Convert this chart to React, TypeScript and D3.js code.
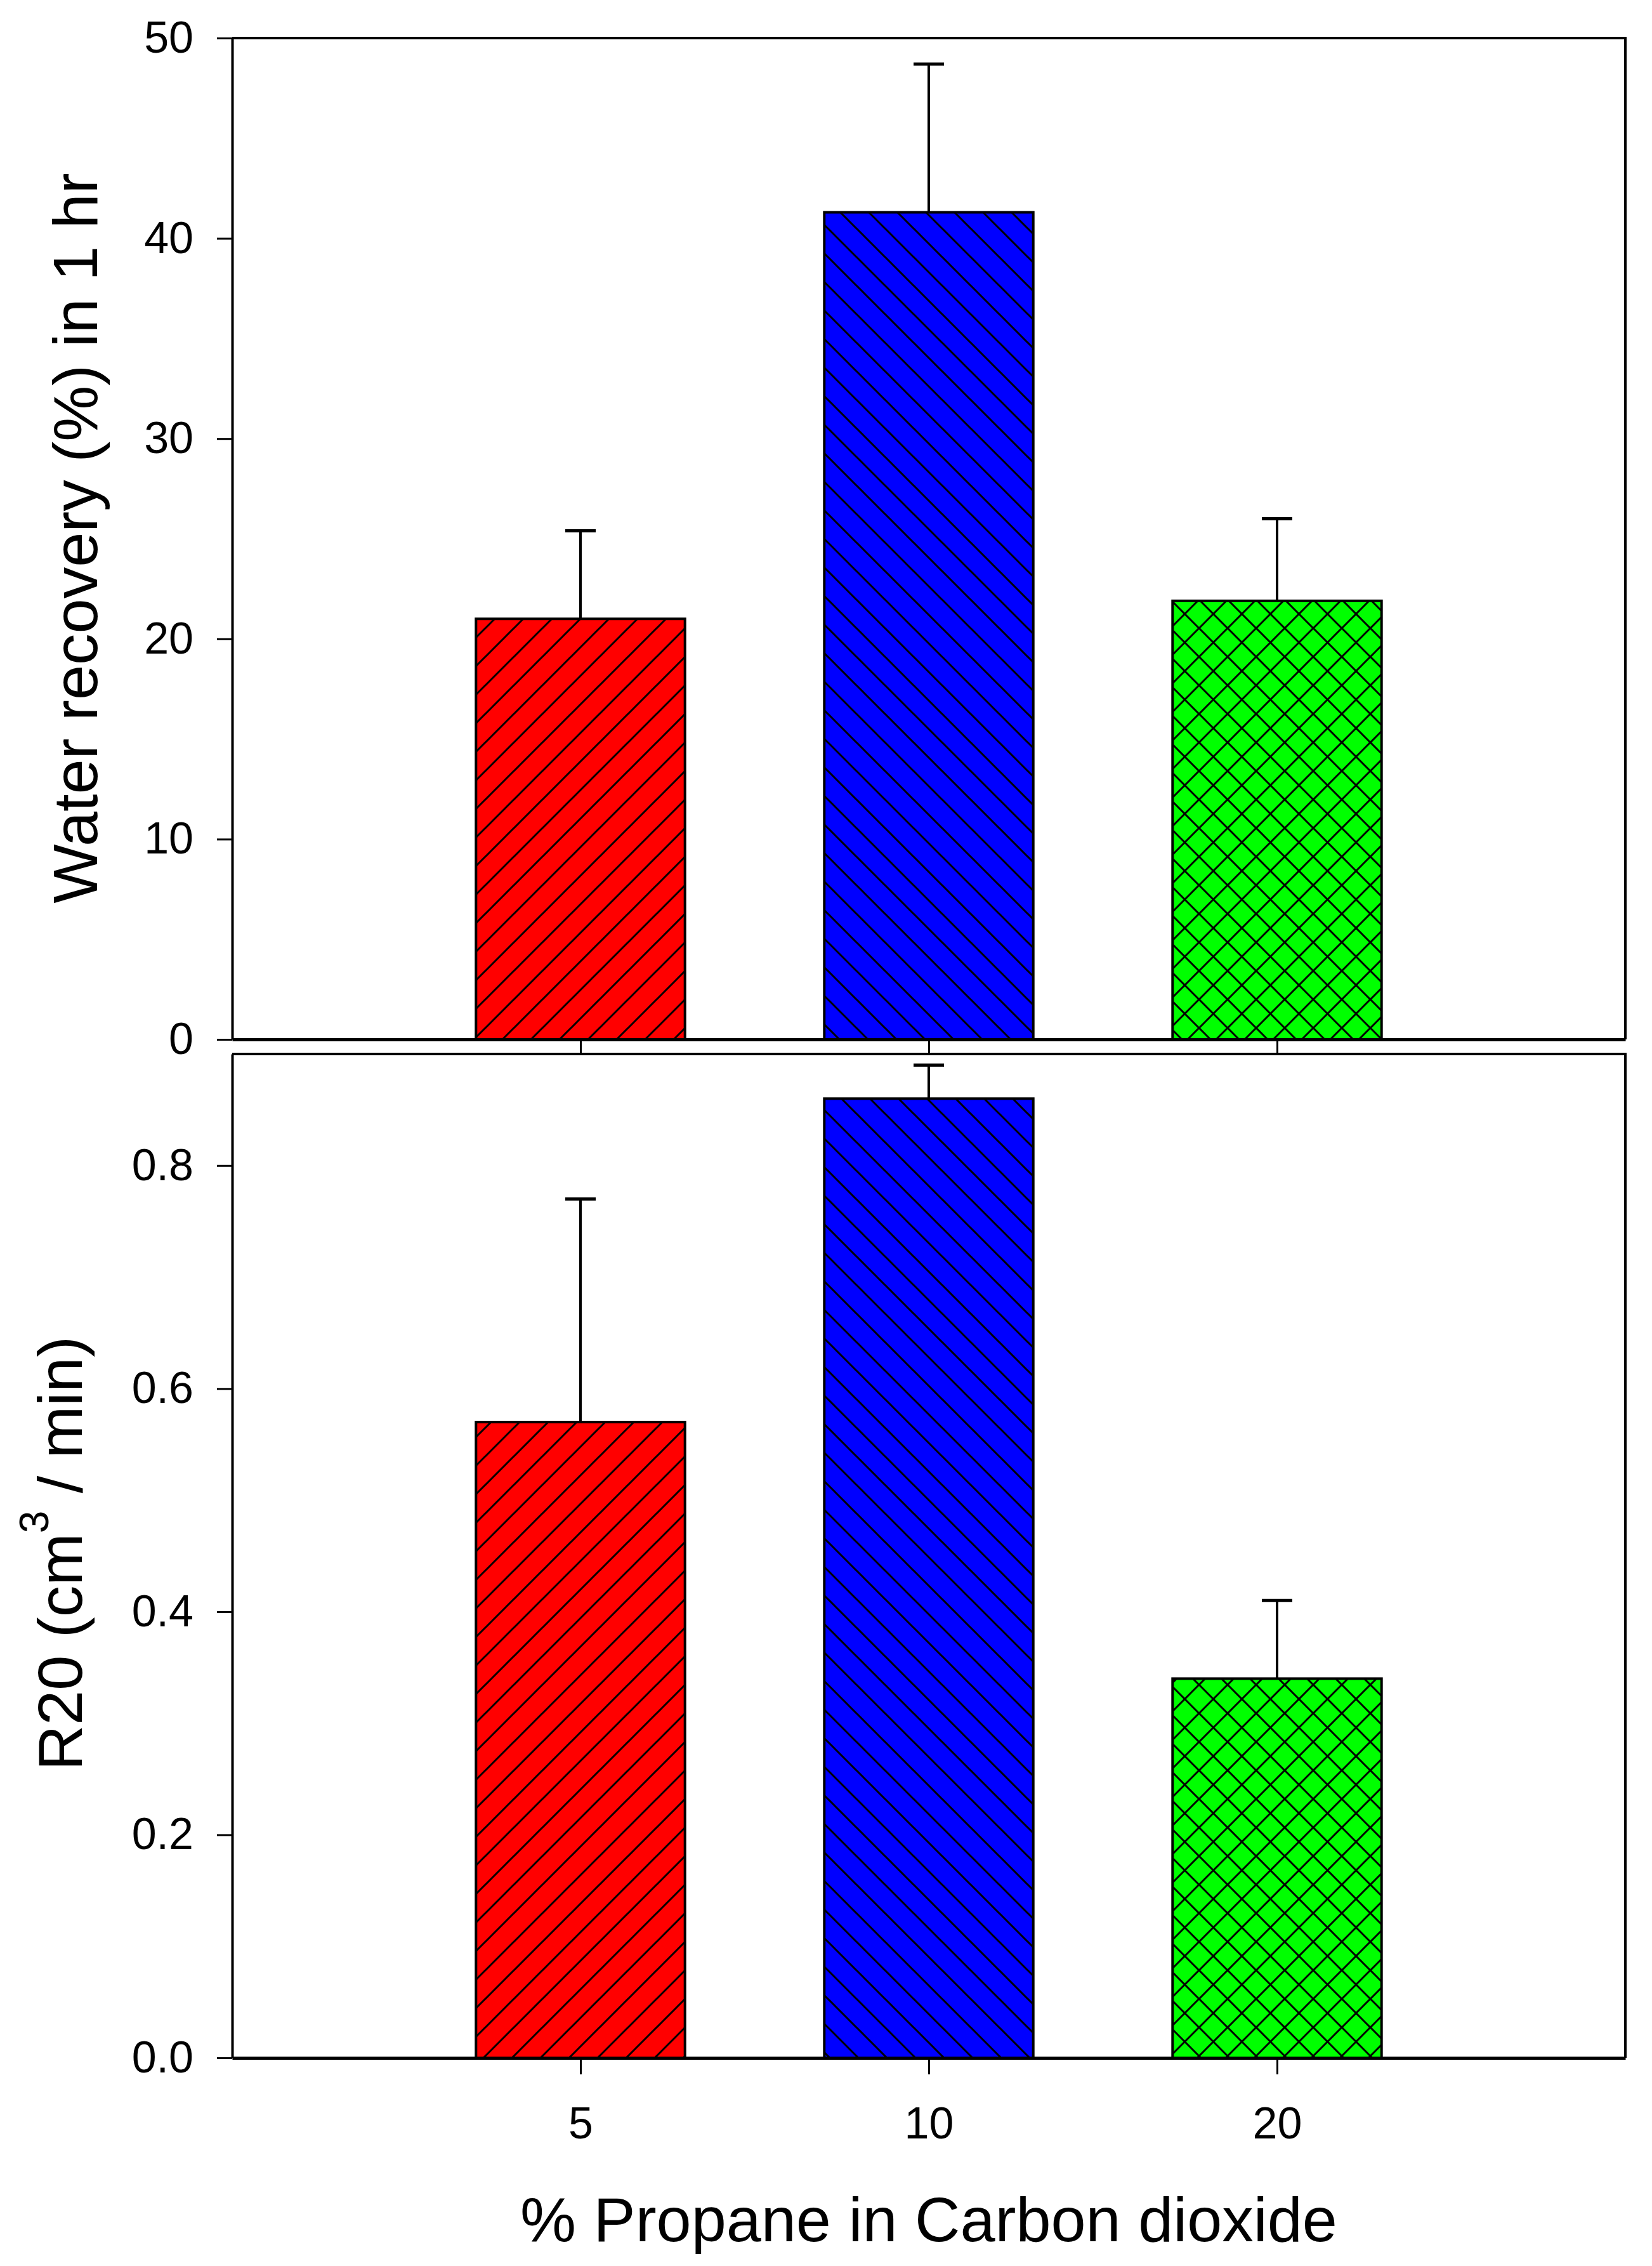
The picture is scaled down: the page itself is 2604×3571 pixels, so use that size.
import React, { useEffect, useRef } from "react";
import * as d3 from "d3";

// values
const categories = ["5", "10", "20"];
const recoveryMeans = [21.0, 41.3, 21.9];
const recoveryErrors = [4.4, 7.4, 4.1];
const r20Means = [0.57, 0.86, 0.34];
const r20Errors = [0.2, 0.03, 0.07];
const recoveryTicks = [0, 10, 20, 30, 40, 50];
const r20Ticks = [0, 0.2, 0.4, 0.6, 0.8];
const barColors = ["#ff0000", "#0000ff", "#00ff00"];
const barPatterns = ["fwd", "back", "cross"];

const W = 2604;
const H = 3571;
const FONT = "'Liberation Sans', Arial, sans-serif";

export default function App() {
  const svgRef: any = useRef();

  useEffect(() => {
    draw();
  }, []);

  const draw = () => {
    const svg = d3.select(svgRef.current);
    svg.selectAll("*").remove();

    const left = 366;
    const right = 2562;

    const x = d3
      .scalePoint()
      .domain(categories)
      .range([left, right])
      .padding(1);
    const barW = x.step() * 0.6;

    // hatch patterns
    const defs = svg.append("defs");
    barPatterns.forEach((p, i) => {
      const pat = defs
        .append("pattern")
        .attr("id", `pat-${p}`)
        .attr("patternUnits", "userSpaceOnUse")
        .attr("width", 45)
        .attr("height", 45);
      pat.append("rect").attr("width", 45).attr("height", 45).attr("fill", barColors[i]);
      const segs: number[][] = [];
      if (p === "fwd" || p === "cross") {
        segs.push([-5, 5, 5, -5], [0, 45, 45, 0], [40, 50, 50, 40]);
      }
      if (p === "back" || p === "cross") {
        segs.push([-5, 40, 5, 50], [0, 0, 45, 45], [40, -5, 50, 5]);
      }
      segs.forEach((s) => {
        pat
          .append("line")
          .attr("x1", s[0])
          .attr("y1", s[1])
          .attr("x2", s[2])
          .attr("y2", s[3])
          .attr("stroke", "black")
          .attr("stroke-width", 3);
      });
    });

    const panel = (
      top: number,
      bottom: number,
      domain: number[],
      ticks: number[],
      fmt: (d: any) => string,
      means: number[],
      errs: number[],
      showLabels: boolean
    ) => {
      const y = d3.scaleLinear().domain(domain).range([bottom, top]);
      const g = svg.append("g");

      // bars
      means.forEach((m, i) => {
        const cx = x(categories[i]) as number;
        g.append("rect")
          .attr("x", cx - barW / 2)
          .attr("y", y(m))
          .attr("width", barW)
          .attr("height", y(0) - y(m))
          .attr("fill", `url(#pat-${barPatterns[i]})`)
          .attr("stroke", "black")
          .attr("stroke-width", 4);
        // upper error bar
        g.append("line")
          .attr("x1", cx)
          .attr("x2", cx)
          .attr("y1", y(m))
          .attr("y2", y(m + errs[i]))
          .attr("stroke", "black")
          .attr("stroke-width", 4);
        g.append("line")
          .attr("x1", cx - 24)
          .attr("x2", cx + 24)
          .attr("y1", y(m + errs[i]))
          .attr("y2", y(m + errs[i]))
          .attr("stroke", "black")
          .attr("stroke-width", 5);
      });

      // frame top and right
      g.append("path")
        .attr("d", `M${left},${top}H${right}V${bottom}`)
        .attr("fill", "none")
        .attr("stroke", "black")
        .attr("stroke-width", 4);

      const yAxis = g
        .append("g")
        .attr("transform", `translate(${left},0)`)
        .call(
          d3
            .axisLeft(y)
            .tickValues(ticks)
            .tickFormat(fmt)
            .tickSize(24)
            .tickSizeOuter(0)
            .tickPadding(37)
        );
      yAxis.select(".domain").attr("stroke-width", 4);
      yAxis.selectAll(".tick line").attr("stroke-width", 3);
      yAxis
        .selectAll("text")
        .attr("font-family", FONT)
        .attr("font-size", 70)
        .attr("fill", "black");

      const xAxis = g
        .append("g")
        .attr("transform", `translate(0,${bottom})`)
        .call(
          d3
            .axisBottom(x)
            .tickSize(showLabels ? 26 : 23)
            .tickSizeOuter(0)
            .tickPadding(51)
            .tickFormat(showLabels ? (d: any) => d : () => "")
        );
      xAxis.select(".domain").attr("stroke-width", 5);
      xAxis.selectAll(".tick line").attr("stroke-width", 3);
      xAxis
        .selectAll("text")
        .attr("font-family", FONT)
        .attr("font-size", 70)
        .attr("fill", "black");
    };

    panel(60, 1638, [0, 50], recoveryTicks, (d) => d3.format("d")(d), recoveryMeans, recoveryErrors, false);
    panel(1661, 3243, [0, 0.9], r20Ticks, (d) => d3.format(".1f")(d), r20Means, r20Errors, true);

    // axis titles
    svg
      .append("text")
      .attr("transform", `translate(153,848) rotate(-90)`)
      .attr("text-anchor", "middle")
      .attr("font-family", FONT)
      .attr("font-size", 99)
      .text("Water recovery (%) in 1 hr");

    const r20 = svg
      .append("text")
      .attr("transform", `translate(129,2448) rotate(-90)`)
      .attr("text-anchor", "middle")
      .attr("font-family", FONT)
      .attr("font-size", 99);
    r20.append("tspan").text("R20 (cm");
    r20.append("tspan").attr("font-size", 64).attr("dy", -53).text("3");
    r20.append("tspan").attr("dy", 53).text(" / min)");

    svg
      .append("text")
      .attr("x", x.range()[0] + (x.range()[1] - x.range()[0]) / 2)
      .attr("y", 3532)
      .attr("text-anchor", "middle")
      .attr("font-family", FONT)
      .attr("font-size", 99)
      .text("% Propane in Carbon dioxide");
  };

  return (
    <svg
      ref={svgRef}
      width={W}
      height={H}
      style={{ position: "absolute", left: 0, top: 0, background: "white" }}
    ></svg>
  );
}
